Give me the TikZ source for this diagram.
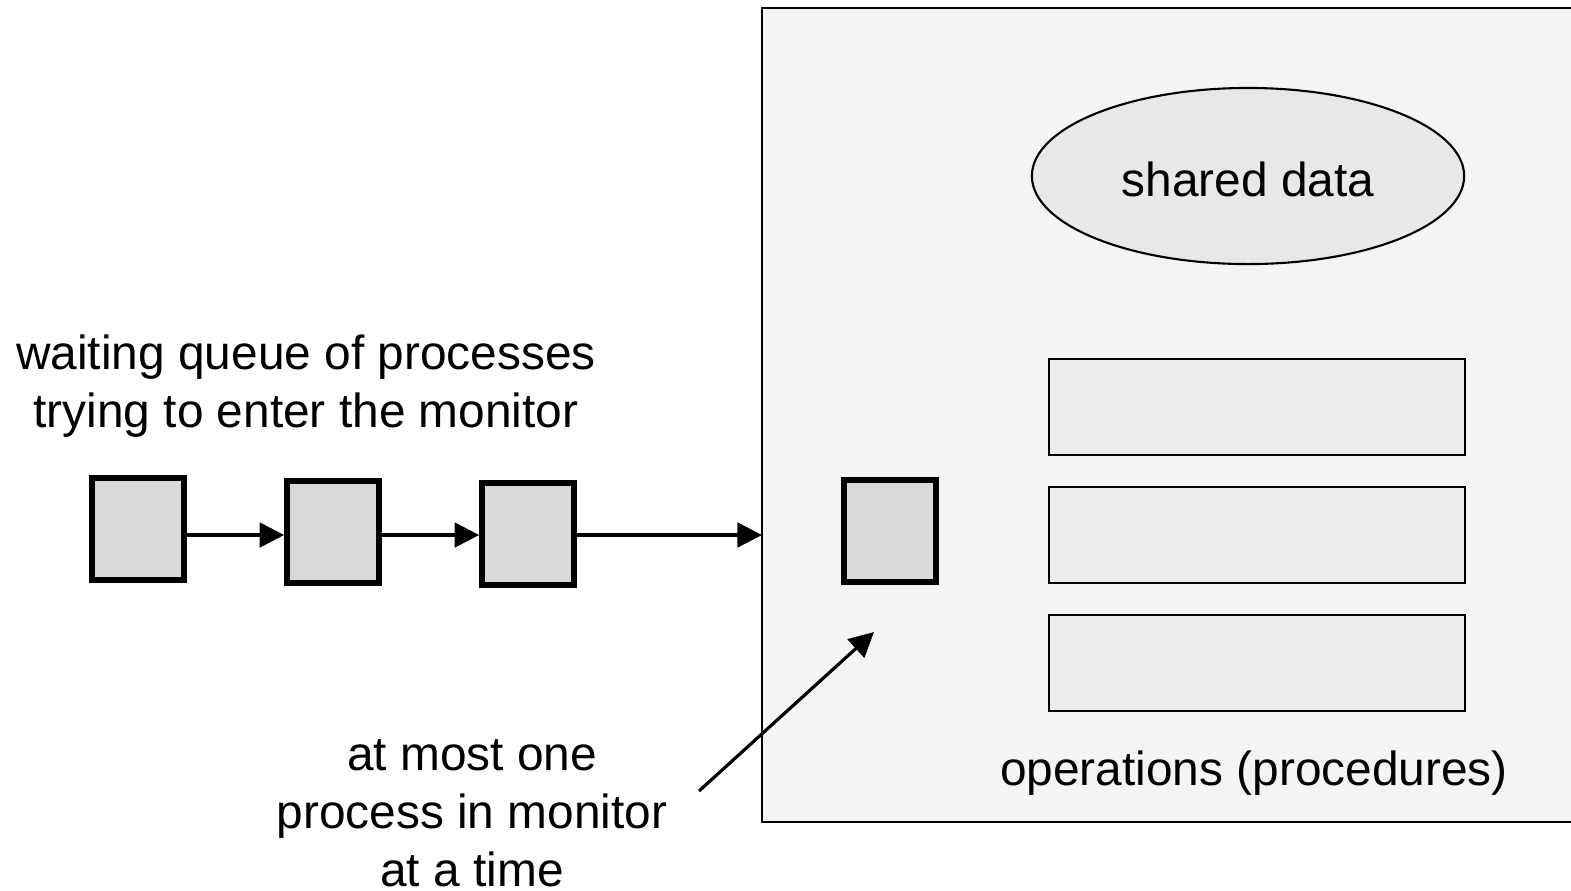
\documentclass[tikz,border=0pt]{standalone}
\usepackage{fontspec}
\setmainfont{Liberation Sans}
\usetikzlibrary{arrows.meta,shapes.geometric,positioning}
\definecolor{monbg}{HTML}{F4F4F4}
\definecolor{databg}{HTML}{E8E8E8}
\definecolor{opbg}{HTML}{ECECEC}
\definecolor{procbg}{HTML}{D9D9D9}
\tikzset{
  proc/.style = {draw, line width=1.6pt, fill=procbg, minimum width=0.92cm,
                 minimum height=1.02cm, inner sep=0pt},
  oper/.style = {draw, line width=0.6pt, fill=opbg, minimum width=4.16cm,
                 minimum height=0.96cm, inner sep=0pt},
  label/.style = {align=center, font=\fontsize{13.6pt}{16.5pt}\selectfont, inner sep=0pt},
  link/.style = {line width=0.9pt, -{Triangle[length=7pt,width=7pt]}}
}
\begin{document}
\begin{tikzpicture}[x=0.01cm, y=-0.01cm]
\useasboundingbox (0,0) rectangle (1571,890);
\clip (0,0) rectangle (1571,890);
% monitor
\fill[monbg] (762,8) rectangle (1600,822);
\draw[line width=0.7pt] (1600,8) -- (762,8) -- (762,822) -- (1600,822);
\coordinate (door) at (762,535);
\node[draw, line width=0.6pt, fill=databg, ellipse, minimum width=4.32cm,
      minimum height=1.76cm, inner sep=0pt] (data) at (1248,176) {};
\node[label] at (1248,179) {shared data};
\node[oper] (op1) at (1257,407) {};
\node[oper] (op2) at (1257,535) {};
\node[oper] (op3) at (1257,663) {};
\node[label] (ops) at (1254,773) {operations (procedures)};
\node[proc] (inside) at (890,531) {};
% queue
\node[proc] (p1) at (138,529) {};
\node[proc] (p2) at (333,532) {};
\node[proc] (p3) at (528,534) {};
\draw[link] (p1.east |- 0,535) -- (p2.west |- 0,535);
\draw[link] (p2.east |- 0,535) -- (p3.west |- 0,535);
\draw[link] (p3.east |- 0,535) -- (door);
\node[label] (queue) at (306,386) {waiting queue of processes\\trying to enter the monitor};
% one at a time
\node[label] (once) at (472,813) {at most one\\process in monitor\\at a time};
\coordinate (tail) at (699,791);
\coordinate (tip) at (874,632);
\draw[link] (tail) -- (tip);
\end{tikzpicture}
\end{document}
